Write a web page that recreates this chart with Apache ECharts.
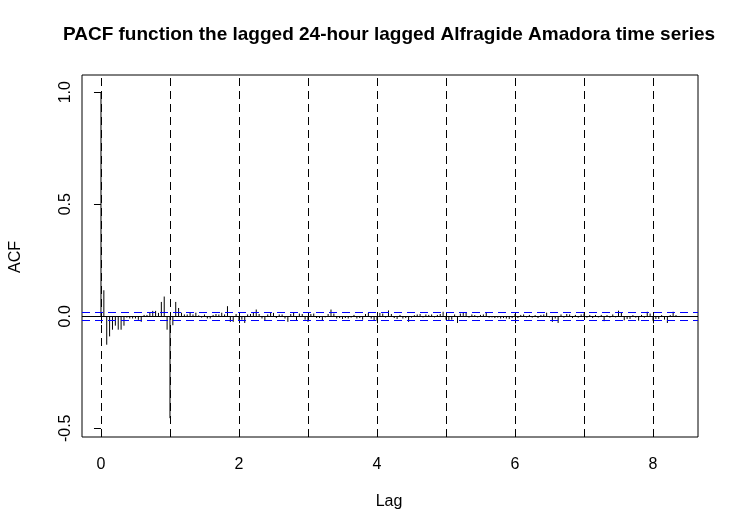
<!DOCTYPE html>
<html lang="en">
<head>
  <meta charset="UTF-8">
  <script src="https://cdn.jsdelivr.net/npm/echarts@6/dist/echarts.min.js"></script>
  <title>PACF</title>
  <style>
    html, body, main { height: 100%; width: 100%; margin: 0; padding: 0; background: #fff; }
  </style>
</head>
<body>
  <main id="chart"></main>
<script>
  // lags are in hours, plotted as lag / 24 (days)
  const freq = 24
  const acf = [
    1.0, 0.116, -0.127, -0.090, -0.060, -0.042, -0.060, -0.060, -0.042, -0.006,
    -0.010, -0.010, -0.010, -0.016, -0.025, 0.006, 0.006, 0.015, 0.024, 0.024,
    0.015, 0.064, 0.088, -0.060, -0.455, -0.040, 0.064, 0.037, 0.016, 0.008,
    0.008, 0.016, 0.008, 0.016, 0.004, -0.006, 0.008, -0.010, -0.010, 0.006,
    0.010, 0.008, 0.016, 0.008, 0.045, -0.025, -0.025, 0.010, -0.020, -0.015,
    -0.030, 0.008, 0.010, 0.015, 0.030, 0.010, -0.010, -0.020, 0.008, 0.015,
    0.015, -0.008, 0.008, 0.008, -0.010, -0.025, 0.010, 0.015, -0.020, 0.012,
    0.010, -0.015, -0.025, 0.010, 0.012, -0.008, -0.008, -0.018, -0.005, 0.010,
    0.030, 0.012, -0.010, -0.008, -0.012, -0.008, -0.010, -0.006, 0.006, -0.010,
    -0.008, -0.015, 0.010, 0.015, -0.010, -0.020, -0.020, 0.015, 0.012, -0.006,
    0.026, 0.010, -0.008, -0.012, 0.006, -0.010, -0.008, -0.025, -0.006, 0.005,
    0.008, 0.010, -0.005, 0.008, 0.006, 0.008, -0.005, 0.006, 0.010, 0.020,
    -0.015, -0.020, -0.015, 0.008, -0.030, 0.012, 0.018, 0.015, -0.006, 0.008,
    0.005, -0.005, 0.006, 0.008, 0.016, -0.006, -0.005, -0.008, -0.006, -0.010,
    -0.008, -0.010, -0.012, -0.008, 0.010, -0.008, 0.006, 0.008, -0.005, 0.006,
    -0.006, 0.005, -0.008, 0.006, 0.008, 0.016, -0.005, -0.025, -0.010, -0.030,
    0.008, -0.006, 0.010, 0.008, -0.008, 0.006, -0.006, 0.008, 0.012, -0.006,
    0.006, -0.008, 0.006, -0.005, 0.006, -0.022, 0.005, -0.006, 0.008, -0.005,
    0.025, 0.015, -0.018, -0.012, -0.012, 0.005, -0.006, -0.020, 0.006, -0.006,
    0.020, 0.012, -0.020, -0.012, -0.012, 0.005, -0.015, -0.030, 0.005, 0.020,
    0.005
  ]
  const ci = 0.021
  const seasonLines = [0, 1, 2, 3, 4, 5, 6, 7, 8]
  const xTicks = [0, 2, 4, 6, 8]
  const yTicks = [-0.5, 0, 0.5, 1.0]

  const points = acf.map((v, i) => [i / freq, v])

  const vLines = seasonLines.map((d) => ({
    xAxis: d,
    lineStyle: { color: '#000', type: [8, 5], width: 1 }
  }))
  const hLines = [
    { yAxis: 0, lineStyle: { color: '#000', type: 'solid', width: 1 } },
    { yAxis: ci, lineStyle: { color: '#0000ff', type: [8, 5], width: 1 } },
    { yAxis: -ci, lineStyle: { color: '#0000ff', type: [8, 5], width: 1 } }
  ]

  const font = 'Liberation Sans, Arial, sans-serif'
  const chart = echarts.init(document.getElementById('chart'), null, { renderer: 'canvas' })
  chart.setOption({
    backgroundColor: '#fff',
    animation: false,
    grid: {
      left: 82, right: 42, top: 75, bottom: 95,
      show: true, borderColor: '#000', borderWidth: 1, backgroundColor: 'transparent'
    },
    xAxis: {
      type: 'value',
      min: -0.275,
      max: 8.652,
      axisLine: { show: false },
      splitLine: { show: false },
      axisTick: { show: true, length: 7, customValues: xTicks, lineStyle: { color: '#000' } },
      axisLabel: {
        customValues: xTicks, margin: 20, color: '#000', fontSize: 16, fontFamily: font
      }
    },
    yAxis: {
      type: 'value',
      min: -0.539,
      max: 1.077,
      axisLine: { show: false },
      splitLine: { show: false },
      axisTick: { show: true, length: 7, customValues: yTicks, lineStyle: { color: '#000' } },
      axisLabel: {
        customValues: yTicks, rotate: 90, margin: 8, color: '#000', fontSize: 16, fontFamily: font,
        formatter: (v) => v.toFixed(1)
      }
    },
    graphic: [
      {
        type: 'text', x: 389, y: 35,
        style: {
          text: 'PACF function the lagged 24-hour lagged Alfragide Amadora time series',
          fill: '#000', font: 'bold 19px ' + font, textAlign: 'center', textVerticalAlign: 'middle'
        }
      },
      {
        type: 'text', x: 389, y: 502,
        style: { text: 'Lag', fill: '#000', font: '16px ' + font, textAlign: 'center', textVerticalAlign: 'middle' }
      },
      {
        type: 'text', x: 16, y: 257, rotation: Math.PI / 2,
        style: { text: 'ACF', fill: '#000', font: '16px ' + font, textAlign: 'center', textVerticalAlign: 'middle' }
      }
    ],
    series: [
      {
        type: 'line',
        data: [],
        symbol: 'none',
        silent: true,
        markLine: {
          silent: true,
          symbol: 'none',
          label: { show: false },
          data: [...vLines, ...hLines]
        }
      },
      {
        type: 'custom',
        data: points,
        encode: { x: 0, y: 1 },
        renderItem: (params, api) => {
          const p0 = api.coord([api.value(0), 0])
          const p1 = api.coord([api.value(0), api.value(1)])
          return {
            type: 'line',
            shape: { x1: p0[0], y1: p0[1], x2: p1[0], y2: p1[1] },
            style: { stroke: '#000', lineWidth: 1 }
          }
        }
      }
    ]
  })
</script>
</body>
</html>
